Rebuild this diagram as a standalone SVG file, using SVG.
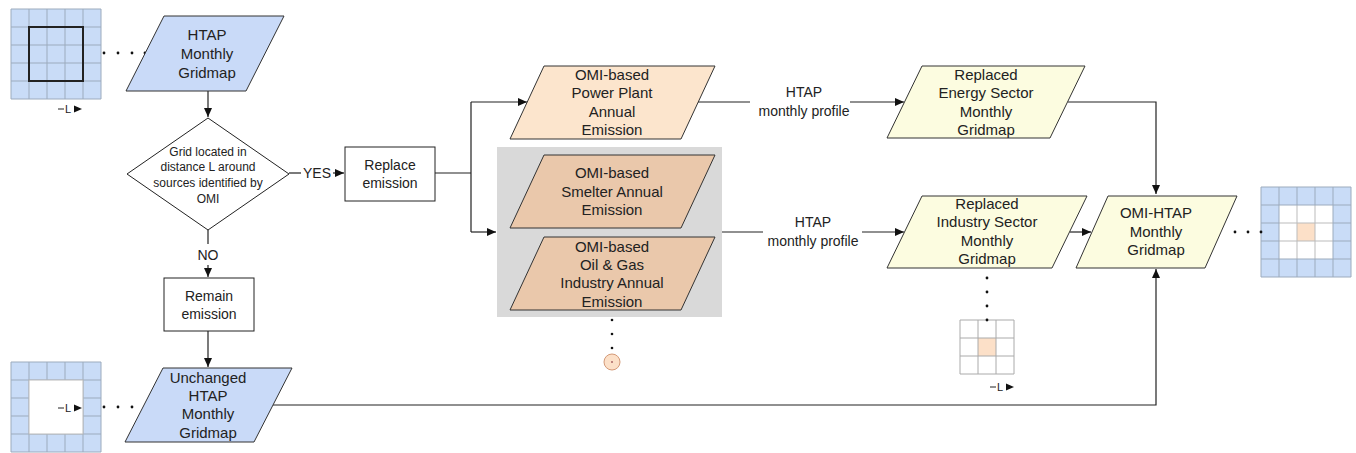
<svg xmlns="http://www.w3.org/2000/svg" width="1356" height="453" viewBox="0 0 1356 453">
<defs>
<marker id="ah" markerWidth="10" markerHeight="8" refX="9" refY="4" orient="auto" markerUnits="userSpaceOnUse">
<path d="M0,0 L9,4 L0,8 Z" fill="#111"/>
</marker>
<pattern id="gblue" x="11" y="0" width="18" height="18" patternUnits="userSpaceOnUse">
<rect width="18" height="18" fill="#c9dcf7" stroke="#9cabbd" stroke-width="1"/>
</pattern>
</defs>
<style>
text{font-family:"Liberation Sans",Arial,sans-serif;fill:#222;text-anchor:middle}
.t{font-size:15px}
.s{font-size:12px}
.sm{font-size:11px}
.blue{fill:#c9daf8;stroke:#333;stroke-width:1}
.peach{fill:#fce5cd;stroke:#333;stroke-width:1}
.peach2{fill:#eac8ab;stroke:#333;stroke-width:1}
.yel{fill:#fcfce0;stroke:#333;stroke-width:1}
.box{fill:#fff;stroke:#222;stroke-width:1}
.c{fill:none;stroke:#222;stroke-width:1.2}
.cell{fill:#c9dcf7;stroke:#9cabbd;stroke-width:1}
.wc{fill:#fff;stroke:#bbb;stroke-width:1}
.pc{fill:#fce0c8;stroke:#bbb;stroke-width:1}
.dot{fill:#111}
</style>

<!-- top-left grid -->
<g id="grid-top-left">
<rect x="11" y="9" width="90" height="90" fill="#c9dcf7"/>
<path d="M11,9 H101 M11,27 H101 M11,45 H101 M11,63 H101 M11,81 H101 M11,99 H101 M11,9 V99 M29,9 V99 M47,9 V99 M65,9 V99 M83,9 V99 M101,9 V99" stroke="#9cabbd" stroke-width="1" fill="none"/>
<rect x="29" y="27" width="54" height="54" fill="none" stroke="#222" stroke-width="2"/>
<path d="M58,109 H64" stroke="#222" stroke-width="1"/>
<text x="68" y="113" class="sm">L</text>
<path d="M74,105.5 L82,109 L74,112.5 Z" fill="#111"/>
<circle class="dot" cx="104" cy="53" r="1.4"/>
<circle class="dot" cx="118" cy="53" r="1.4"/>
<circle class="dot" cx="132" cy="53" r="1.4"/>
<circle class="dot" cx="145" cy="53" r="1.4"/>
</g>

<!-- bottom-left grid -->
<g id="grid-bottom-left">
<rect x="11" y="362" width="90" height="90" fill="#c9dcf7"/>
<path d="M11,362 H101 M11,380 H101 M11,398 H101 M11,416 H101 M11,434 H101 M11,452 H101 M11,362 V452 M29,362 V452 M47,362 V452 M65,362 V452 M83,362 V452 M101,362 V452" stroke="#9cabbd" stroke-width="1" fill="none"/>
<rect x="29" y="380" width="54" height="54" fill="#fff" stroke="#bbb" stroke-width="1"/>
<path d="M58,408 H64" stroke="#222" stroke-width="1"/>
<text x="68" y="412" class="sm">L</text>
<path d="M74,404.5 L82,408 L74,411.5 Z" fill="#111"/>
<circle class="dot" cx="104" cy="407" r="1.4"/>
<circle class="dot" cx="118" cy="407" r="1.4"/>
<circle class="dot" cx="132" cy="407" r="1.4"/>
<circle class="dot" cx="145" cy="407" r="1.4"/>
</g>

<!-- right grid -->
<g id="grid-right">
<rect x="1261" y="187" width="90" height="90" fill="#c9dcf7"/>
<rect x="1279" y="205" width="54" height="54" fill="#fff"/>
<rect x="1297" y="223" width="18" height="18" fill="#fce0c8"/>
<path d="M1279,223 H1333 M1279,241 H1333 M1297,205 V259 M1315,205 V259" stroke="#bbb" stroke-width="1" fill="none"/>
<path d="M1261,187 H1351 M1261,205 H1279 M1333,205 H1351 M1261,223 H1279 M1333,223 H1351 M1261,241 H1279 M1333,241 H1351 M1261,259 H1351 M1261,277 H1351 M1261,187 V277 M1279,187 V205 M1279,259 V277 M1297,187 V205 M1297,259 V277 M1315,187 V205 M1315,259 V277 M1333,187 V205 M1333,259 V277 M1351,187 V277 M1279,205 V259 M1333,205 V259 M1279,205 H1333" stroke="#9cabbd" stroke-width="1" fill="none"/>
<circle class="dot" cx="1235" cy="232" r="1.4"/>
<circle class="dot" cx="1248" cy="232" r="1.4"/>
<circle class="dot" cx="1261" cy="232" r="1.4"/>
</g>

<!-- small grid -->
<g id="grid-small">
<rect x="960" y="320" width="54" height="54" fill="#fff"/>
<rect x="978" y="338" width="18" height="18" fill="#fce0c8"/>
<path d="M960,320 H1014 M960,338 H1014 M960,356 H1014 M960,374 H1014 M960,320 V374 M978,320 V374 M996,320 V374 M1014,320 V374" stroke="#aaa" stroke-width="1" fill="none"/>
<path d="M990,387 H996" stroke="#222" stroke-width="1"/>
<text x="1000" y="391" class="sm">L</text>
<path d="M1006,383.5 L1014,387 L1006,390.5 Z" fill="#111"/>
<circle class="dot" cx="987" cy="278" r="1.4"/>
<circle class="dot" cx="987" cy="292" r="1.4"/>
<circle class="dot" cx="987" cy="306" r="1.4"/>
<circle class="dot" cx="987" cy="320" r="1.4"/>
</g>

<!-- gray group -->
<g id="group-industry">
<rect x="497" y="147" width="225" height="170" fill="#d9d9d9"/>
<circle class="dot" cx="612" cy="320" r="1.3"/>
<circle class="dot" cx="612" cy="334" r="1.3"/>
<circle class="dot" cx="612" cy="348" r="1.3"/>
<circle cx="612" cy="362" r="8" fill="#fce0c8" stroke="#d49a78" stroke-width="1"/>
<circle cx="612" cy="362" r="1" fill="#a66"/>
</g>

<!-- connectors -->
<g id="connectors">
<path class="c" d="M208,91 V117" marker-end="url(#ah)"/>
<path class="c" d="M289,173 H301"/>
<path class="c" d="M333,173 H344" marker-end="url(#ah)"/>
<text x="317" y="178" class="t" style="font-size:14px">YES</text>
<path class="c" d="M208,230 V244"/>
<text x="208" y="260" class="t" style="font-size:14px">NO</text>
<path class="c" d="M208,265 V277" marker-end="url(#ah)"/>
<path class="c" d="M208,331 V367" marker-end="url(#ah)"/>
<path class="c" d="M435,173 H471 M471,102 V232"/>
<path class="c" d="M471,102 H527" marker-end="url(#ah)"/>
<path class="c" d="M471,232 H496" marker-end="url(#ah)"/>
<path class="c" d="M698,102 H750"/>
<path class="c" d="M850,102 H904" marker-end="url(#ah)"/>
<text x="804" y="97" class="t" style="font-size:14px">HTAP</text>
<text x="804" y="116" class="t" style="font-size:14px">monthly profile</text>
<path class="c" d="M722,232 H763"/>
<path class="c" d="M862,232 H904" marker-end="url(#ah)"/>
<text x="813" y="227" class="t" style="font-size:14px">HTAP</text>
<text x="813" y="246" class="t" style="font-size:14px">monthly profile</text>
<path class="c" d="M1068,102 H1156 V194" marker-end="url(#ah)"/>
<path class="c" d="M1070,232 H1091" marker-end="url(#ah)"/>
<path class="c" d="M273,405 H1156 V269" marker-end="url(#ah)"/>
</g>

<g id="htap-monthly">
<polygon class="blue" points="164,16 284,16 246,91 126,91"/>
<text x="207" y="40" class="t">HTAP</text>
<text x="207" y="59" class="t">Monthly</text>
<text x="207" y="78" class="t">Gridmap</text>
</g>

<g id="decision">
<polygon class="box" points="208,118 289,174 208,230 127,174"/>
<text x="208" y="156" class="s">Grid located in</text>
<text x="208" y="171" class="s">distance L around</text>
<text x="208" y="187" class="s">sources identified by</text>
<text x="208" y="203" class="s">OMI</text>
</g>

<g id="replace">
<rect class="box" x="345" y="147" width="90" height="54"/>
<text x="390" y="170" class="t" style="font-size:14px">Replace</text>
<text x="390" y="188" class="t" style="font-size:14px">emission</text>
</g>

<g id="remain">
<rect class="box" x="164" y="278" width="90" height="53"/>
<text x="209" y="301" class="t" style="font-size:14px">Remain</text>
<text x="209" y="319" class="t" style="font-size:14px">emission</text>
</g>

<g id="unchanged">
<polygon class="blue" points="163,368 292,368 254,442 125,442"/>
<text x="208" y="383" class="t">Unchanged</text>
<text x="208" y="401" class="t">HTAP</text>
<text x="208" y="419" class="t">Monthly</text>
<text x="208" y="438" class="t">Gridmap</text>
</g>

<g id="power-plant">
<polygon class="peach" points="544,66 715,66 681,139 510,139"/>
<text x="612" y="80" class="t">OMI-based</text>
<text x="612" y="98" class="t">Power Plant</text>
<text x="612" y="117" class="t">Annual</text>
<text x="612" y="135" class="t">Emission</text>
</g>

<g id="smelter">
<polygon class="peach2" points="544,155 715,155 681,228 510,228"/>
<text x="612" y="178" class="t">OMI-based</text>
<text x="612" y="197" class="t">Smelter Annual</text>
<text x="612" y="215" class="t">Emission</text>
</g>

<g id="oil-gas">
<polygon class="peach2" points="544,237 715,237 681,310 510,310"/>
<text x="612" y="252" class="t">OMI-based</text>
<text x="612" y="270" class="t">Oil &amp; Gas</text>
<text x="612" y="288" class="t">Industry Annual</text>
<text x="612" y="307" class="t">Emission</text>
</g>

<g id="energy-sector">
<polygon class="yel" points="922,66 1085,66 1050,138 887,138"/>
<text x="986" y="80" class="t">Replaced</text>
<text x="986" y="98" class="t">Energy Sector</text>
<text x="986" y="117" class="t">Monthly</text>
<text x="986" y="135" class="t">Gridmap</text>
</g>

<g id="industry-sector">
<polygon class="yel" points="922,196 1087,196 1052,268 887,268"/>
<text x="987" y="209" class="t">Replaced</text>
<text x="987" y="227" class="t">Industry Sector</text>
<text x="987" y="246" class="t">Monthly</text>
<text x="987" y="264" class="t">Gridmap</text>
</g>

<g id="omi-htap">
<polygon class="yel" points="1108,196 1237,196 1205,268 1076,268"/>
<text x="1156" y="218" class="t">OMI-HTAP</text>
<text x="1156" y="237" class="t">Monthly</text>
<text x="1156" y="255" class="t">Gridmap</text>
</g>
</svg>
